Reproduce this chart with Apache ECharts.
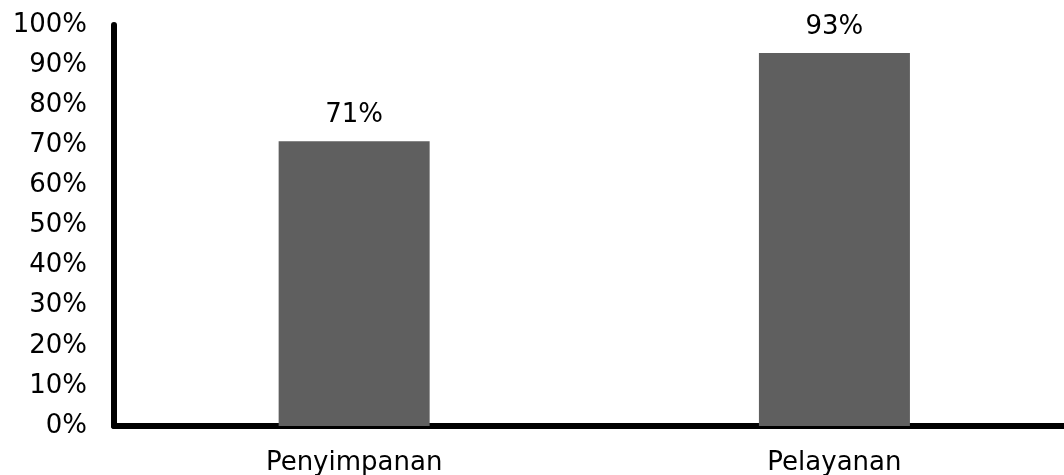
<!DOCTYPE html>
<html><head><meta charset="utf-8">
<script src="https://cdn.jsdelivr.net/npm/echarts@6/dist/echarts.min.js"></script>
<style>html,body{margin:0;padding:0;background:#fff}#c{width:1064px;height:475px}</style>
</head><body><div id="c"></div>
<script>
const categories = ["Penyimpanan", "Pelayanan"];
const values = [71, 93];
const yTickLabels = ["0%","10%","20%","30%","40%","50%","60%","70%","80%","90%","100%"];

const FONT = "DejaVu Sans";
const chart = echarts.init(document.getElementById('c'), null, {renderer: 'canvas'});
chart.setOption({
  animation: false,
  backgroundColor: '#ffffff',
  grid: {left: 114, right: 0, top: 25, bottom: 49, containLabel: false, outerBoundsMode: 'none'},
  xAxis: {
    type: 'value', min: -0.5, max: 1.478, interval: 0.5,
    axisLine: {show: true, lineStyle: {color: '#000', width: 6}},
    axisTick: {show: false},
    splitLine: {show: false},
    axisLabel: {color: '#000', fontFamily: FONT, fontSize: 26, margin: 24,
      showMinLabel: false, showMaxLabel: false,
      formatter: function (v) {
        return Math.abs(v - Math.round(v)) < 1e-6 ? (categories[Math.round(v)] || '') : '';
      }}
  },
  yAxis: {
    type: 'value', min: 0, max: 100, interval: 10,
    axisLine: {show: true, onZero: false, lineStyle: {color: '#000', width: 6}},
    axisTick: {show: false},
    splitLine: {show: false},
    axisLabel: {color: '#000', fontFamily: FONT, fontSize: 26, margin: 27,
      formatter: function (v) { return yTickLabels[Math.round(v / 10)]; }}
  },
  series: [{
    type: 'bar', data: values.map(function (v, i) { return [i, v]; }), barWidth: 151,
    itemStyle: {color: '#5f5f5f'},
    label: {show: true, position: 'top', distance: 13, color: '#000', fontFamily: FONT, fontSize: 26,
      formatter: function (p) { return p.value[1] + '%'; }}
  }]
});
</script></body></html>
